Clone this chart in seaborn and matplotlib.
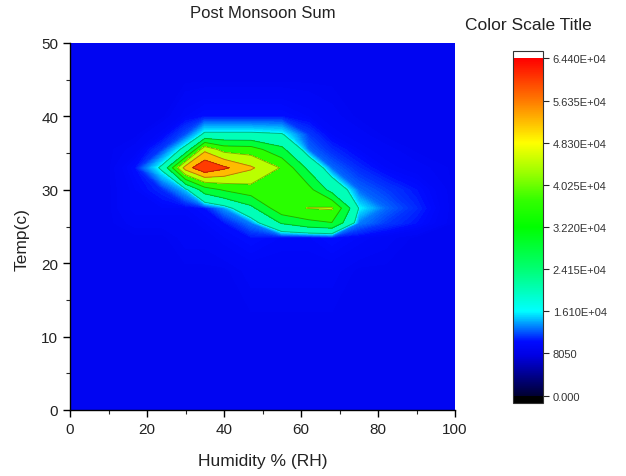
import numpy as np
import matplotlib
matplotlib.use("Agg")
import matplotlib.pyplot as plt
import seaborn as sns
from matplotlib.colors import LinearSegmentedColormap, Normalize
from matplotlib.cm import ScalarMappable
from matplotlib.ticker import MultipleLocator

# Grid of observation bins: humidity (%RH) columns, temperature (C) rows
humidity = [0, 10, 17, 24, 30, 35, 40, 47, 55, 62, 68, 75, 82, 90, 100]
temp = [0, 12, 19, 23.5, 25.5, 27.5, 30, 33, 35.5, 37.5, 40, 45, 50]

# Post-monsoon summed counts, one row per temperature (bottom to top)
total = [
    [9000, 9000, 9000, 9000, 9000, 9000, 9000, 9000, 9000, 9000, 9000, 9000, 9000, 9000, 9000],
    [9000, 9000, 9000, 9000, 9000, 9000, 9000, 9000, 9000, 9000, 9000, 9000, 9000, 9000, 9000],
    [9000, 9000, 9000, 9000, 9000, 9000, 9000, 9500, 9500, 9500, 9500, 9000, 9000, 9000, 9000],
    [9000, 9000, 9000, 9000, 9500, 9500, 10000, 10500, 10000, 10000, 10500, 10000, 9500, 9000, 9000],
    [9000, 9000, 9500, 9500, 9500, 10000, 10500, 13000, 25000, 30000, 32000, 13000, 11500, 10500, 9000],
    [9000, 9000, 10000, 10000, 10000, 10500, 13500, 22000, 38000, 40500, 41200, 16000, 12500, 11000, 9000],
    [9000, 9000, 10000, 11000, 14500, 28000, 33000, 37000, 37000, 35000, 21000, 12500, 11500, 10500, 9000],
    [9000, 9000, 10500, 17000, 52000, 64000, 58000, 49500, 39500, 22000, 12500, 11000, 10000, 9500, 9000],
    [9000, 9000, 9500, 11500, 17500, 46000, 37000, 36000, 26000, 12500, 11000, 10000, 9500, 9000, 9000],
    [9000, 9000, 9000, 10000, 12000, 17000, 17000, 17000, 16500, 11500, 10000, 9500, 9000, 9000, 9000],
    [9000, 9000, 9000, 9000, 10000, 10500, 10500, 10500, 10500, 10000, 9500, 9000, 9000, 9000, 9000],
    [9000, 9000, 9000, 9000, 9000, 9000, 9000, 9000, 9000, 9000, 9000, 9000, 9000, 9000, 9000],
    [9000, 9000, 9000, 9000, 9000, 9000, 9000, 9000, 9000, 9000, 9000, 9000, 9000, 9000, 9000],
]

scale_ticks = [0, 8050, 16100, 24150, 32200, 40250, 48300, 56350, 64400]
scale_labels = ["0.000", "8050", "1.610E+04", "2.415E+04", "3.220E+04",
                "4.025E+04", "4.830E+04", "5.635E+04", "6.440E+04"]

sns.set_theme(style="ticks")
plt.rcParams["font.family"] = ["Liberation Sans", "DejaVu Sans"]

# Rainbow scale: dark blue -> blue -> cyan -> green -> yellow -> red
cmap = LinearSegmentedColormap.from_list(
    "rainbow_scale",
    [(0.00, (0.00, 0.00, 0.20)),
     (0.12, (0.00, 0.00, 0.90)),
     (0.16, (0.00, 0.04, 1.00)),
     (0.25, (0.00, 1.00, 1.00)),
     (0.375, (0.00, 1.00, 0.45)),
     (0.50, (0.00, 1.00, 0.00)),
     (0.58, (0.20, 1.00, 0.00)),
     (0.66, (0.60, 1.00, 0.00)),
     (0.75, (1.00, 1.00, 0.00)),
     (0.87, (1.00, 0.50, 0.00)),
     (1.00, (1.00, 0.00, 0.00))],
    N=512,
)
cmap.set_under("black")
cmap.set_over("white")
norm = Normalize(vmin=scale_ticks[0], vmax=scale_ticks[-1])

X, Y = np.meshgrid(humidity, temp)
Z = np.array(total, dtype=float)

fig = plt.figure(figsize=(6.26, 4.77), dpi=100)
ax = fig.add_axes([70 / 626, 1 - 411 / 477, 385 / 626, 367 / 477])

fill_levels = np.concatenate([np.linspace(0, 16100, 70), scale_ticks[3:]])
ax.contourf(X, Y, Z, levels=fill_levels, cmap=cmap, norm=norm)
ax.contour(X, Y, Z, levels=scale_ticks[2:-1], colors="black",
           linewidths=0.7, alpha=0.3)

ax.set_xlim(0, 100)
ax.set_ylim(0, 50)
ax.xaxis.set_major_locator(MultipleLocator(20))
ax.xaxis.set_minor_locator(MultipleLocator(10))
ax.yaxis.set_major_locator(MultipleLocator(10))
ax.yaxis.set_minor_locator(MultipleLocator(5))
ax.tick_params(which="major", direction="out", length=5, width=1,
               labelsize=11, colors="black", labelcolor="#222222")
ax.tick_params(which="minor", direction="out", length=3, width=0.8)
for side in ("top", "right"):
    ax.spines[side].set_visible(False)
for side in ("left", "bottom"):
    ax.spines[side].set_linewidth(1.0)
    ax.spines[side].set_color("black")
ax.set_xlabel("")
ax.set_ylabel("")

fig.text(262.5 / 626, 1 - 13 / 477, "Post Monsoon Sum", ha="center",
         va="center", fontsize=12, color="#222222")
fig.text(262.5 / 626, 1 - 462 / 477, "Humidity % (RH)", ha="center",
         va="center", fontsize=12.5, color="#222222")
fig.text(22 / 626, 1 - 240 / 477, "Temp(c)", ha="center", va="center",
         rotation=90, fontsize=12.5, color="#222222")

# Colour scale bar with under/over caps
cax = fig.add_axes([513 / 626, 1 - 404 / 477, 30 / 626, 352 / 477])
sm = ScalarMappable(norm=norm, cmap=cmap)
cb = fig.colorbar(sm, cax=cax, extend="both", extendrect=True,
                  extendfrac=0.022)
cb.set_ticks(scale_ticks)
cb.set_ticklabels(scale_labels)
cb.outline.set_linewidth(0.8)
cb.outline.set_edgecolor("#333333")
cax.tick_params(direction="out", length=4, width=0.8, labelsize=8,
                labelcolor="#333333", pad=3)
cax.minorticks_off()
fig.text(528 / 626, 1 - 26 / 477, "Color Scale Title", ha="center",
         va="center", fontsize=12.5, color="#222222")

fig.savefig("out.png", dpi=100)
